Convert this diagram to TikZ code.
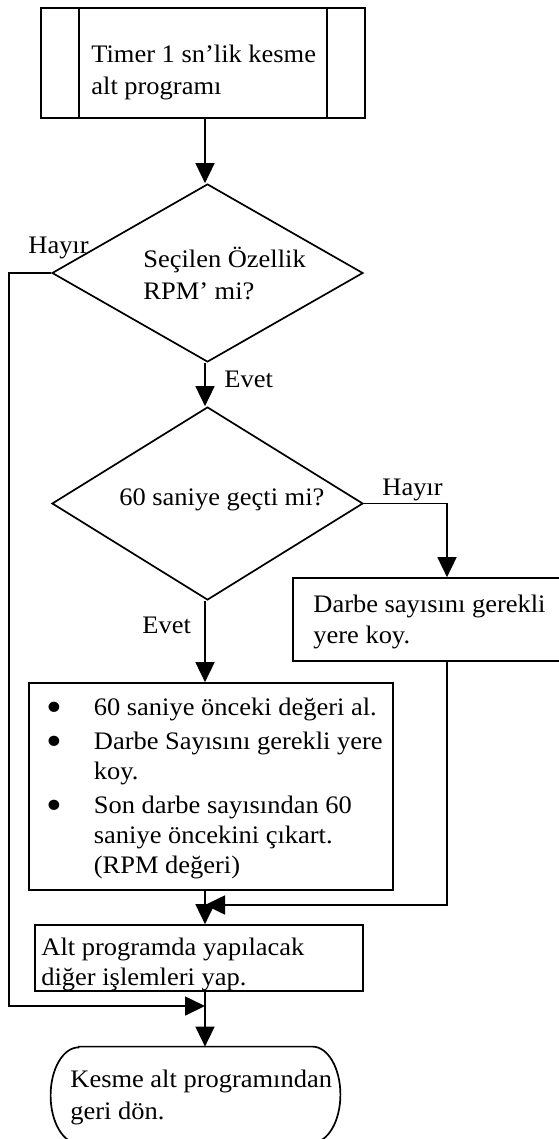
\documentclass[tikz,border=0pt]{standalone}
\usepackage{fontspec}
\setmainfont{Liberation Serif}[FakeStretch=1.05]
\usetikzlibrary{arrows.meta,shapes.geometric}
\newcommand{\rows}[1]{\vtop{\halign{##\hfil\cr#1\crcr}}}
\newcommand{\dotitem}{\makebox[23.75pt][l]{\raisebox{-3.2pt}{\scalebox{1.7}{•}}}}
\tikzset{
  box/.style={draw, rectangle, line width=0.85pt, inner sep=0pt},
  ask/.style={draw, diamond, line width=0.85pt, inner sep=0pt, minimum width=155.5pt},
  txt/.style={anchor=base west, inner sep=0pt, font=\fontsize{12.6}{16}\selectfont},
  flow/.style={line width=0.85pt, -{Triangle[length=10pt,width=9.5pt]}}
}
\begin{document}
\begin{tikzpicture}[x=0.5pt,y=-0.5pt]
\useasboundingbox (0,0) rectangle (558,1139);
\coordinate (col) at (205,0);
\coordinate (rcol) at (447,0);
\coordinate (lcol) at (9,0);
\coordinate (merge) at (205,905);
\coordinate (back) at (205,1006);

\node[box, minimum width=162pt, minimum height=55pt] (start) at (203,63) {};
\draw[line width=0.85pt] ([xshift=19.5pt]start.north west) -- ([xshift=19.5pt]start.south west);
\draw[line width=0.85pt] ([xshift=-19.5pt]start.north east) -- ([xshift=-19.5pt]start.south east);
\node[txt] (start-t) at (91,63) {\rows{Timer 1 sn’lik kesme\cr alt programı}};

\node[ask, minimum height=89pt] (q1) at (207.5,273) {};
\node[txt] (q1-t) at (143,267) {\rows{Seçilen Özellik\cr RPM’ mi?}};
\node[txt] (q1-no) at (28,254) {Hayır};
\node[txt] (q1-yes) at (224,387) {Evet};

\node[ask, minimum height=96.5pt] (q2) at (207.5,503.5) {};
\node[txt] (q2-t) at (119,505) {60 saniye geçti mi?};
\node[txt] (q2-no) at (382,495) {Hayır};
\node[txt] (q2-yes) at (142,633) {Evet};

\node[box, minimum width=143.5pt, minimum height=41.5pt] (store) at (436.5,619.5) {};
\node[txt, font=\fontsize{12.6}{15.5}\selectfont] (store-t) at (313,612) {\rows{Darbe sayısını gerekli\cr yere koy.}};

\node[box, minimum width=182pt, minimum height=103.5pt] (calc) at (211,786.5) {};
\node[txt, font=\fontsize{12.6}{15}\selectfont] (calc-t) at (46,715) {\rows{\dotitem 60 saniye önceki değeri al.\cr\noalign{\vskip2pt}
\dotitem Darbe Sayısını gerekli yere\cr
\hspace*{23.75pt}koy.\cr\noalign{\vskip2pt}
\dotitem Son darbe sayısından 60\cr
\hspace*{23.75pt}saniye öncekini çıkart.\cr
\hspace*{23.75pt}(RPM değeri)}};

\node[box, minimum width=164pt, minimum height=33pt] (other) at (199,958) {};
\node[txt, font=\fontsize{12.6}{15}\selectfont] (other-t) at (41,955) {\rows{Alt programda yapılacak\cr diğer işlemleri yap.}};

\node[inner sep=0pt, minimum width=144.5pt, minimum height=48pt] (ret) at (195.5,1095) {};
\draw[line width=0.85pt] ([xshift=14pt]ret.north west) -- ([xshift=-14pt]ret.north east)
  arc[start angle=90, end angle=-90, x radius=14pt, y radius=24pt]
  -- ([xshift=14pt]ret.south west)
  arc[start angle=270, end angle=90, x radius=14pt, y radius=24pt] -- cycle;
\node[txt] (ret-t) at (70,1087) {\rows{Kesme alt programından\cr geri dön.}};

\draw[flow] (start.south -| col) -- (q1.north -| col);
\draw[flow] (q1.south -| col) -- (q2.north -| col);
\draw[flow] (q2.south -| col) -- (calc.north -| col);
\draw[flow] (q2.east) -| (rcol |- store.north);
\draw[flow] (rcol |- store.south) |- (merge);
\draw[flow] (calc.south -| col) -- (other.north -| col);
\draw[flow] (q1.west) -| (lcol |- back) -- (back);
\draw[flow] (other.south -| col) -- (ret.north -| col);
\end{tikzpicture}
\end{document}
